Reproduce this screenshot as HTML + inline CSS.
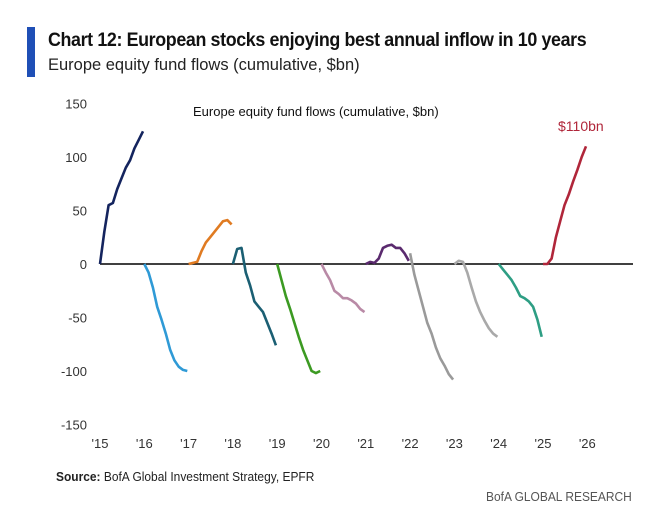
<!DOCTYPE html>
<html><head><meta charset="utf-8"><style>
body{margin:0;background:#fff;width:672px;height:518px;overflow:hidden;font-family:"Liberation Sans",sans-serif;}
.bar{position:absolute;left:27px;top:27px;width:8px;height:50px;background:#1f4fb6;}
.t{position:absolute;left:48px;top:30px;font-size:19px;font-weight:bold;color:#111;letter-spacing:-0.4px;transform:scaleX(0.94);transform-origin:left;white-space:nowrap}
.s{position:absolute;left:48px;top:55px;font-size:17px;color:#222;transform:scaleX(0.97);transform-origin:left;white-space:nowrap}
.src{position:absolute;left:56px;top:469px;font-size:13px;color:#222;transform:scaleX(0.92);transform-origin:left;white-space:nowrap}
.brand{position:absolute;left:486px;top:489px;font-size:13px;color:#555;transform:scaleX(0.92);transform-origin:left;white-space:nowrap}
svg{position:absolute;left:0;top:0}
</style></head><body>
<div class="bar"></div>
<div class="t">Chart 12: European stocks enjoying best annual inflow in 10 years</div>
<div class="s">Europe equity fund flows (cumulative, $bn)</div>
<div class="src"><b>Source:</b> BofA Global Investment Strategy, EPFR</div>
<div class="brand">BofA GLOBAL RESEARCH</div>
<svg id="c" width="672" height="518"></svg>
<script>
const years=[2015,2016,2017,2018,2019,2020,2021,2022,2023,2024,2025];
const colors=["#14245e","#2f9ad6","#e07b22","#1b5f73","#3c9a22","#b98aa6","#5a2a6e","#9a9a9a","#a9a9a9","#2e9e84","#b0263a"];
const fracs=[0,0.1,0.2,0.3,0.4,0.5,0.6,0.7,0.8,0.9,1.0];
const v2015=[0,30,55,57,70,80,90,97,108,116,124];
const v2016=[0,-8,-22,-40,-52,-65,-80,-90,-96,-99,-100];
const v2017=[0,1,2,12,20,25,30,35,40,41,37];
const v2018=[0,14,15,-8,-20,-35,-40,-45,-55,-65,-76];
const v2019=[0,-15,-30,-42,-55,-68,-80,-90,-100,-102,-100];
const v2020=[0,-8,-15,-25,-28,-32,-32,-34,-37,-42,-45];
const v2021=[0,2,1,5,15,17,18,15,15,10,3];
const v2022=[10,-10,-25,-40,-55,-65,-78,-88,-95,-103,-108];
const v2023=[0,3,2,-8,-22,-35,-45,-53,-60,-65,-68];
const v2024=[0,-5,-10,-15,-22,-30,-32,-35,-40,-52,-68];
const v2025=[0,0,5,25,40,55,65,77,88,100,110];
const series=[v2015,v2016,v2017,v2018,v2019,v2020,v2021,v2022,v2023,v2024,v2025];
const yTicks=[150,100,50,0,-50,-100,-150];
const xTickLabels=["'15","'16","'17","'18","'19","'20","'21","'22","'23","'24","'25","'26"];
const X=y=>100+(y-2015)*44.3;
const Y=v=>264-v*1.07;
const svg=document.getElementById('c');const NS='http://www.w3.org/2000/svg';
function el(t,a){const e=document.createElementNS(NS,t);for(const k in a)e.setAttribute(k,a[k]);svg.appendChild(e);return e;}
yTicks.forEach(t=>{const e=el('text',{x:87,y:Y(t)+5,'text-anchor':'end','font-size':13,fill:'#333','font-family':'Liberation Sans'});e.textContent=t;

});
xTickLabels.forEach((l,i)=>{const e=el('text',{x:X(2015+i),y:448,'text-anchor':'middle','font-size':13,fill:'#333','font-family':'Liberation Sans'});e.textContent=l;

});
const z=el('line',{x1:100,x2:633,y1:Y(0),y2:Y(0),stroke:'#000','stroke-width':1.5});


const it=el('text',{x:193,y:116,'font-size':13,fill:'#111','font-family':'Liberation Sans'});it.textContent='Europe equity fund flows (cumulative, $bn)';


series.forEach((s,i)=>{const d=s.map((v,j)=>(j?'L':'M')+X(years[i]+fracs[j]*0.97).toFixed(1)+','+Y(v).toFixed(1)).join(' ');
const p=el('path',{d:d,fill:'none',stroke:colors[i],'stroke-width':2.6,'stroke-linejoin':'round'});

});
const lab=el('text',{x:558,y:131,'font-size':14,fill:'#b0263a','font-family':'Liberation Sans'});lab.textContent='$110bn';


</script>
</body></html>
